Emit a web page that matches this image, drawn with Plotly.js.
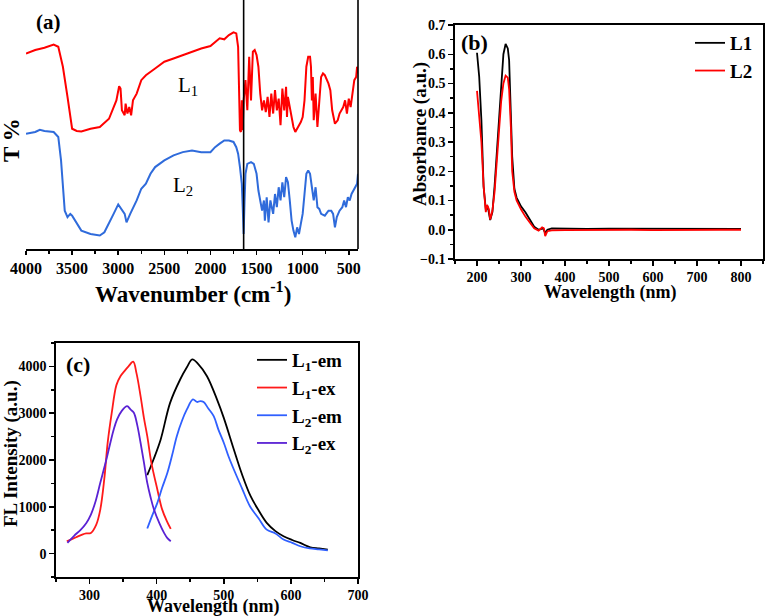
<!DOCTYPE html>
<html>
<head>
<meta charset="utf-8">
<script src="https://cdn.plot.ly/plotly-3.0.1.min.js"></script>
<style>
  html, body { margin: 0; padding: 0; background: #fff; }
  #chart { width: 765px; height: 616px; }
</style>
</head>
<body>
<div id="chart"></div>
<script>
// (a) FTIR, transmittance in arbitrary units
const ftirL1Wn = [4000, 3900, 3800, 3700, 3650, 3600, 3550, 3500, 3450, 3400, 3300, 3200, 3100, 3050, 3020, 2990, 2975, 2960, 2930, 2920, 2900, 2880, 2860, 2840, 2800, 2750, 2700, 2600, 2500, 2400, 2300, 2200, 2100, 2000, 1950, 1900, 1850, 1800, 1750, 1720, 1700, 1690, 1680, 1670, 1660, 1650, 1640, 1620, 1600, 1580, 1560, 1540, 1520, 1500, 1480, 1460, 1440, 1420, 1400, 1380, 1360, 1340, 1320, 1300, 1280, 1260, 1240, 1220, 1200, 1180, 1170, 1160, 1140, 1120, 1100, 1080, 1060, 1040, 1020, 1000, 980, 960, 940, 920, 910, 900, 890, 880, 860, 840, 820, 800, 780, 760, 720, 700, 680, 650, 620, 600, 560, 540, 520, 500, 480, 460, 440, 420, 410, 400];
const ftirL1T = [78.5, 79.9, 80.8, 82.1, 81.2, 73.2, 61.1, 48.3, 47.4, 47.2, 48.3, 49.0, 52.3, 57.0, 59.7, 65.4, 64.4, 55.7, 53.7, 58.4, 54.4, 57.0, 53.7, 59.7, 62.4, 67.8, 69.8, 72.5, 75.2, 76.5, 77.9, 79.2, 80.5, 81.5, 83.2, 84.6, 84.2, 85.9, 87.0, 86.6, 81.2, 66.4, 47.7, 47.0, 59.7, 47.7, 59.7, 67.8, 55.7, 77.2, 59.7, 79.2, 79.9, 77.9, 73.2, 62.4, 55.7, 59.7, 55.0, 61.1, 53.0, 62.4, 54.4, 63.8, 55.7, 60.4, 49.7, 64.4, 55.7, 65.1, 53.0, 61.1, 57.0, 54.4, 49.0, 47.0, 48.3, 49.7, 51.0, 53.0, 59.7, 73.2, 77.2, 77.2, 73.2, 59.7, 69.1, 51.7, 62.4, 49.0, 59.7, 69.1, 70.5, 69.8, 66.4, 63.8, 55.7, 50.3, 51.7, 54.4, 57.0, 59.7, 54.4, 60.4, 57.0, 62.4, 67.8, 69.1, 73.2, 70.5];
const ftirL2Wn = [4000, 3900, 3850, 3800, 3700, 3650, 3620, 3600, 3580, 3550, 3520, 3500, 3450, 3400, 3300, 3200, 3150, 3100, 3050, 3000, 2980, 2950, 2930, 2910, 2890, 2870, 2800, 2750, 2700, 2650, 2600, 2500, 2400, 2300, 2200, 2100, 2000, 1950, 1900, 1850, 1800, 1750, 1720, 1700, 1680, 1660, 1650, 1640, 1630, 1620, 1600, 1560, 1530, 1500, 1480, 1460, 1440, 1420, 1410, 1390, 1370, 1350, 1320, 1300, 1280, 1260, 1240, 1220, 1200, 1180, 1160, 1140, 1120, 1100, 1080, 1060, 1040, 1020, 1000, 980, 960, 940, 920, 900, 880, 860, 840, 820, 800, 760, 720, 690, 670, 650, 630, 600, 570, 550, 530, 510, 490, 470, 450, 430, 410, 400];
const ftirL2T = [46.3, 47.0, 47.9, 47.4, 47.0, 45.0, 35.6, 24.8, 15.4, 12.8, 14.1, 13.4, 10.1, 7.4, 6.0, 5.4, 6.7, 10.1, 14.1, 17.9, 16.8, 15.4, 14.1, 10.7, 12.1, 14.1, 19.5, 24.2, 26.2, 30.2, 32.9, 35.6, 37.6, 38.9, 39.6, 38.9, 38.9, 40.9, 42.3, 43.6, 43.6, 43.0, 40.9, 38.3, 32.9, 26.2, 16.8, 6.0, 19.5, 30.2, 34.2, 34.9, 34.2, 30.2, 23.5, 19.5, 15.4, 19.5, 11.4, 20.8, 10.7, 19.5, 14.1, 22.1, 16.8, 24.8, 19.5, 26.8, 20.8, 28.9, 26.8, 19.5, 11.4, 7.4, 4.7, 8.7, 6.0, 10.1, 14.1, 22.1, 30.2, 31.5, 30.2, 24.8, 19.5, 24.8, 16.8, 16.1, 14.1, 13.4, 15.4, 15.4, 14.1, 8.7, 12.8, 15.4, 16.8, 19.5, 16.8, 20.8, 19.5, 22.1, 23.5, 24.8, 26.2, 30.2];
const ftirMarkWn = 1640;

// (b) UV-vis absorbance
const uvL1Wl = [200, 205, 210, 215, 220, 225, 230, 235, 240, 245, 250, 255, 260, 265, 270, 273, 277, 280, 285, 290, 300, 310, 320, 330, 340, 350, 355, 360, 370, 400, 450, 500, 550, 600, 650, 700, 750, 800];
const uvL1Abs = [0.605, 0.523, 0.375, 0.147, 0.070, 0.075, 0.033, 0.060, 0.150, 0.260, 0.380, 0.500, 0.600, 0.635, 0.620, 0.580, 0.400, 0.250, 0.140, 0.110, 0.080, 0.060, 0.035, 0.010, 0.000, 0.005, -0.010, 0.000, 0.005, 0.004, 0.003, 0.004, 0.004, 0.003, 0.004, 0.003, 0.004, 0.003];
const uvL2Wl = [200, 205, 210, 215, 220, 223, 227, 230, 235, 240, 245, 250, 255, 260, 265, 270, 273, 277, 280, 285, 290, 300, 310, 320, 330, 340, 348, 352, 355, 360, 370, 400, 450, 500, 550, 600, 650, 700, 750, 800];
const uvL2Abs = [0.475, 0.400, 0.300, 0.150, 0.060, 0.085, 0.070, 0.035, 0.065, 0.130, 0.240, 0.350, 0.440, 0.500, 0.527, 0.520, 0.480, 0.350, 0.200, 0.130, 0.100, 0.070, 0.045, 0.025, 0.005, -0.003, 0.008, 0.005, -0.022, -0.005, -0.002, -0.001, 0.000, -0.001, 0.000, -0.001, 0.000, 0.000, 0.000, 0.000];

// (c) fluorescence
const flL1emWl = [386, 395, 406, 420, 435, 445, 453, 462, 475, 490, 500, 515, 527, 540, 552, 564, 577, 589, 602, 614, 629, 642, 655];
const flL1emI = [1675, 2000, 2440, 3220, 3720, 3980, 4150, 4050, 3790, 3290, 2900, 2225, 1700, 1226, 920, 656, 480, 371, 290, 228, 135, 110, 85];
const flL1exWl = [266, 272, 280, 290, 295, 302, 310, 316, 322, 327, 333, 340, 346, 352, 358, 365, 370, 376, 381, 386, 392, 401, 408, 415, 421];
const flL1exI = [264, 300, 350, 410, 430, 442, 620, 940, 1600, 2370, 3000, 3600, 3790, 3900, 4000, 4100, 3850, 3365, 2900, 2510, 1950, 1370, 950, 700, 528];
const flL2emWl = [386, 393, 401, 408, 416, 423, 430, 438, 445, 454, 460, 465, 470, 477, 485, 492, 500, 507, 515, 527, 539, 552, 564, 577, 589, 602, 614, 628, 642, 655];
const flL2emI = [535, 800, 1084, 1400, 1726, 2100, 2510, 2850, 3080, 3294, 3240, 3260, 3240, 3100, 2937, 2650, 2368, 2080, 1797, 1400, 1012, 750, 513, 430, 300, 230, 157, 110, 90, 71];
const flL2exWl = [267, 277, 287, 295, 302, 309, 316, 324, 331, 336, 341, 348, 356, 361, 366, 371, 376, 381, 386, 391, 396, 404, 411, 416, 421];
const flL2exI = [230, 380, 513, 650, 834, 1120, 1512, 1950, 2368, 2650, 2866, 3050, 3150, 3080, 3009, 2750, 2368, 1950, 1512, 1200, 941, 650, 442, 330, 264];

const W = 765, H = 616;
const fx = p => p / W;
const fy = p => 1 - p / H;

const serif = "Liberation Serif";
const tickFont = size => ({ family: serif, size: size, color: "#000", weight: "bold" });

const traces = [
  { x: ftirL1Wn, y: ftirL1T, type: "scatter", mode: "lines", xaxis: "x", yaxis: "y",
    line: { color: "#ff0000", width: 2 }, showlegend: false, hoverinfo: "none" },
  { x: ftirL2Wn, y: ftirL2T, type: "scatter", mode: "lines", xaxis: "x", yaxis: "y",
    line: { color: "#2f6bdb", width: 2 }, showlegend: false, hoverinfo: "none" },

  { x: uvL1Wl, y: uvL1Abs, name: "L1", type: "scatter", mode: "lines", xaxis: "x2", yaxis: "y2",
    legend: "legend", line: { color: "#000", width: 1.8 } },
  { x: uvL2Wl, y: uvL2Abs, name: "L2", type: "scatter", mode: "lines", xaxis: "x2", yaxis: "y2",
    legend: "legend", line: { color: "#ff0000", width: 1.8 } },

  { x: flL1emWl, y: flL1emI, name: "L<sub>1</sub>-em", type: "scatter", mode: "lines", xaxis: "x3", yaxis: "y3",
    legend: "legend2", line: { color: "#000", width: 1.8, shape: "spline" } },
  { x: flL1exWl, y: flL1exI, name: "L<sub>1</sub>-ex", type: "scatter", mode: "lines", xaxis: "x3", yaxis: "y3",
    legend: "legend2", line: { color: "#ff1a1a", width: 1.8, shape: "spline" } },
  { x: flL2emWl, y: flL2emI, name: "L<sub>2</sub>-em", type: "scatter", mode: "lines", xaxis: "x3", yaxis: "y3",
    legend: "legend2", line: { color: "#3060ff", width: 1.8, shape: "spline" } },
  { x: flL2exWl, y: flL2exI, name: "L<sub>2</sub>-ex", type: "scatter", mode: "lines", xaxis: "x3", yaxis: "y3",
    legend: "legend2", line: { color: "#5a22d4", width: 1.8, shape: "spline" } }
];

const boxAxis = {
  showline: true, mirror: true, linecolor: "#000", linewidth: 1.6,
  ticks: "outside", ticklen: 5, tickwidth: 1.5, tickcolor: "#000",
  showgrid: false, zeroline: false, tickfont: tickFont(14)
};

function txt(text, x, y, size, opts) {
  return Object.assign({
    text: text, x: fx(x), y: fy(y), xref: "paper", yref: "paper",
    xanchor: "center", yanchor: "middle",
    showarrow: false, font: { family: serif, size: size, color: "#000", weight: "bold" }
  }, opts || {});
}

const layout = {
  width: W, height: H,
  margin: { l: 0, r: 0, t: 0, b: 0 },
  paper_bgcolor: "#fff", plot_bgcolor: "rgba(0,0,0,0)",
  font: { family: serif, color: "#000" },
  xaxis: {
    domain: [fx(26), fx(358)], anchor: "y", range: [4000, 400],
    showline: true, linecolor: "#000", linewidth: 1.6,
    ticks: "outside", ticklen: 4, tickwidth: 1.5, tickcolor: "#000",
    dtick: 500, tick0: 0, minor: { ticks: "outside", dtick: 250, ticklen: 3, tickcolor: "#000" },
    showgrid: false, zeroline: false, tickfont: tickFont(16)
  },
  yaxis: {
    domain: [fy(249), 1], anchor: "x", range: [0, 100],
    showline: false, showticklabels: false, ticks: "", showgrid: false, zeroline: false
  },
  xaxis2: Object.assign({}, boxAxis, {
    domain: [fx(455), fx(763)], anchor: "y2", range: [150, 850],
    dtick: 100, tick0: 0, minor: { ticks: "outside", dtick: 50, ticklen: 3, tickcolor: "#000" }
  }),
  yaxis2: Object.assign({}, boxAxis, {
    domain: [fy(259), fy(25)], anchor: "x2", range: [-0.1, 0.7],
    dtick: 0.1, tick0: 0, tickformat: ".1f",
    minor: { ticks: "outside", dtick: 0.05, ticklen: 3, tickcolor: "#000" }
  }),
  xaxis3: Object.assign({}, boxAxis, {
    domain: [fx(56), fx(358)], anchor: "y3", range: [250, 700],
    dtick: 100, tick0: 0, minor: { ticks: "outside", dtick: 50, ticklen: 3, tickcolor: "#000" }
  }),
  yaxis3: Object.assign({}, boxAxis, {
    domain: [fy(577), fy(343)], anchor: "x3", range: [-500, 4500],
    dtick: 1000, tick0: 0,
    minor: { ticks: "outside", dtick: 500, ticklen: 3, tickcolor: "#000" }
  }),
  legend: {
    x: fx(690), y: fy(24), xanchor: "left", yanchor: "top",
    bgcolor: "rgba(0,0,0,0)", borderwidth: 0, itemwidth: 30,
    font: { family: serif, size: 19, color: "#000", weight: "bold" }
  },
  legend2: {
    x: fx(252), y: fy(341), xanchor: "left", yanchor: "top",
    bgcolor: "rgba(0,0,0,0)", borderwidth: 0, itemwidth: 30,
    font: { family: serif, size: 19, color: "#000", weight: "bold" }
  },
  shapes: [
    { type: "line", xref: "x", yref: "y domain", x0: ftirMarkWn, x1: ftirMarkWn, y0: 0, y1: 1,
      line: { color: "#000", width: 1.6 } },
    { type: "line", xref: "x domain", yref: "y domain", x0: 1, x1: 1, y0: 0, y1: 1,
      line: { color: "#000", width: 1.6 } }
  ],
  annotations: [
    txt("(a)", 49, 22, 21),
    txt("L<sub>1</sub>", 176, 86, 21, { xanchor: "left", font: { family: serif, size: 21, color: "#000" } }),
    txt("L<sub>2</sub>", 171, 186, 21, { xanchor: "left", font: { family: serif, size: 21, color: "#000" } }),
    txt("T %", 11, 140, 23, { textangle: -90 }),
    txt("Wavenumber (cm<sup>-1</sup>)", 193, 292, 23),
    txt("(b)", 474, 43, 22),
    txt("Absorbance (a.u.)", 420, 134, 19, { textangle: -90 }),
    txt("Wavelength (nm)", 610, 292, 18),
    txt("(c)", 78, 364, 22),
    txt("FL Intensity (a.u.)", 11, 454, 19, { textangle: -90 }),
    txt("Wavelength (nm)", 213, 606, 18)
  ]
};

const config = { displayModeBar: false, responsive: false, staticPlot: true };

Plotly.newPlot("chart", traces, layout, config);
</script>
</body>
</html>
